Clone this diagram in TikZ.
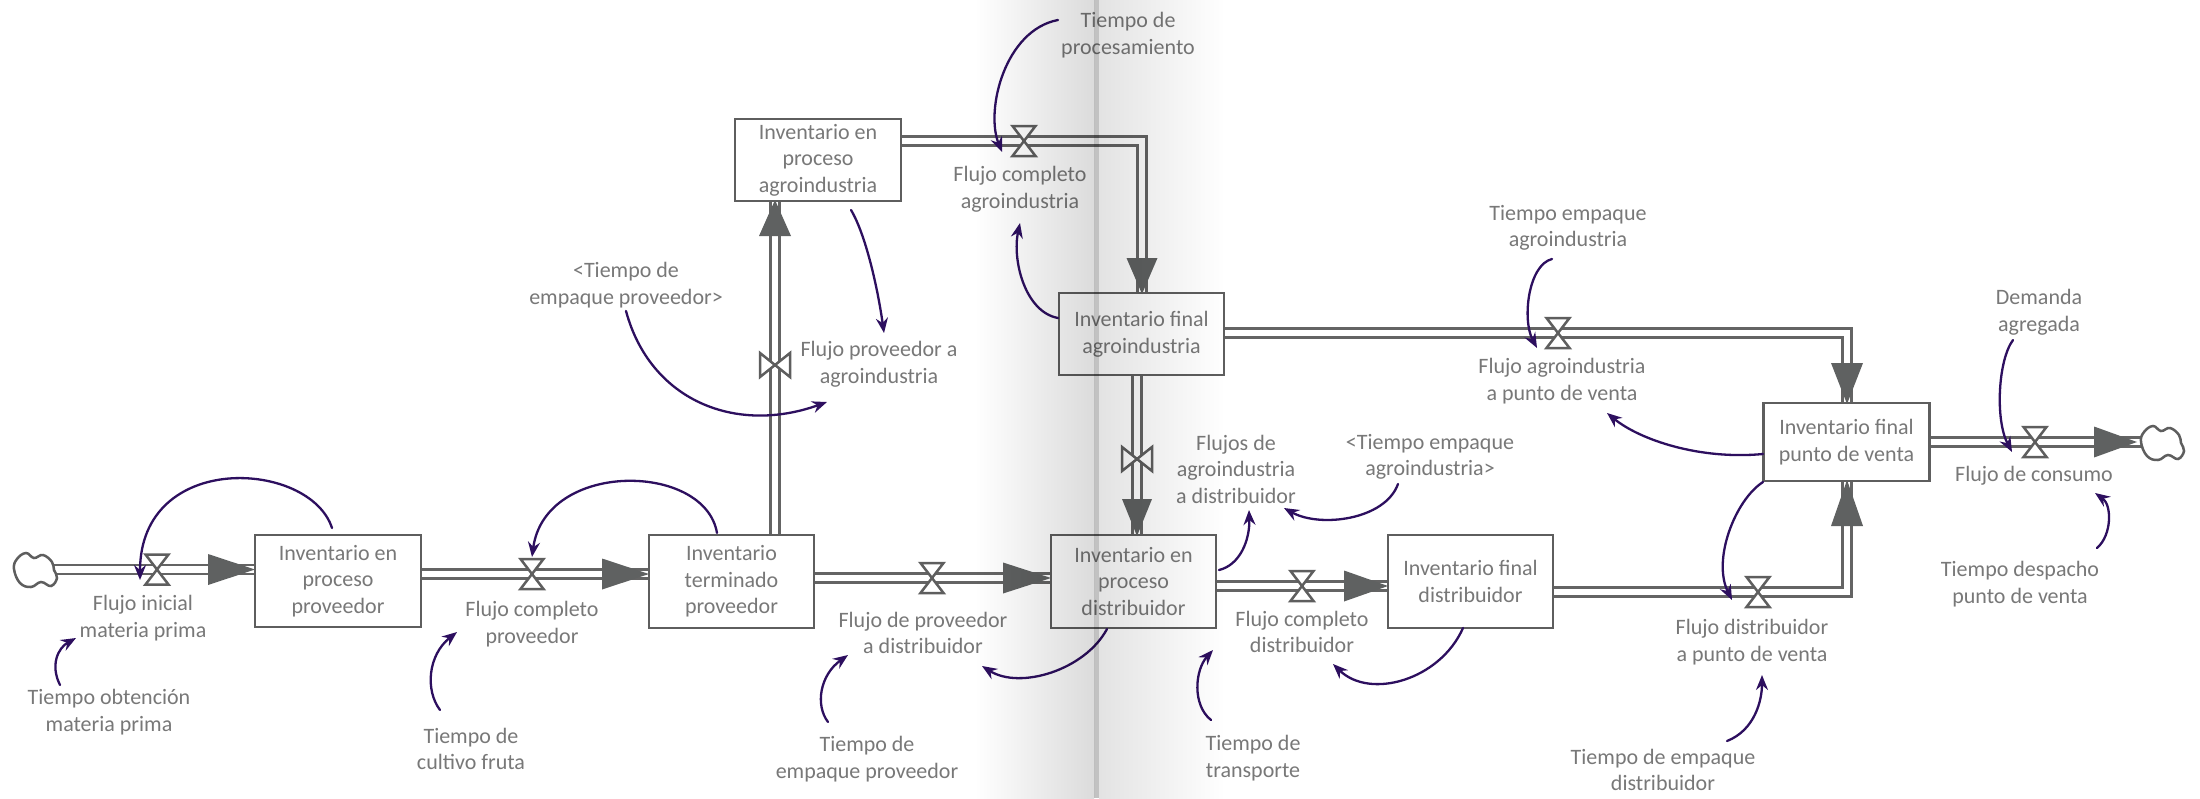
\documentclass[tikz,border=0pt]{standalone}
\usepackage{fontspec}
\setmainfont{Carlito}
\usetikzlibrary{arrows.meta}
\definecolor{txt}{HTML}{787878}
\definecolor{edge}{HTML}{5E5E5E}
\definecolor{pipec}{HTML}{646464}
\definecolor{headc}{HTML}{5F6161}
\definecolor{lnk}{RGB}{45,15,95}
\begin{document}
\begin{tikzpicture}[x=1pt,y=-1pt,
  every node/.style={inner sep=0pt, outer sep=0pt, align=center, text=txt, font=\fontsize{22}{26.5}\selectfont},
  stock/.style={draw=edge, line width=2.7pt},
  pipe/.style={draw=pipec, line width=2.5pt, double=white, double distance=6.5pt},
  valvest/.style={draw=edge, line width=2.5pt, fill=white, line join=miter},
  head/.style={fill=headc},
  link/.style={draw=lnk, line width=2.3pt, line cap=round, -{Stealth[length=15pt,width=12pt,inset=5pt]}},
  pics/hgvalve/.style={code={
    \draw[valvest] (-11.5,-15) -- (11.5,-15) -- (0,0) -- cycle;
    \draw[valvest] (-11.5,15) -- (11.5,15) -- (0,0) -- cycle;}},
  pics/btvalve/.style={code={
    \draw[valvest] (-15,-12) -- (-15,12) -- (0,0) -- cycle;
    \draw[valvest] (15,-12) -- (15,12) -- (0,0) -- cycle;}},
  pics/cloud/.style={code={
    \draw[edge, line width=2.5pt, fill=white] plot[smooth cycle, tension=0.7] coordinates
      {(-21,-1) (-18,-11) (-9,-17) (-1,-12) (8,-15) (17,-8) (19,0) (22,8) (16,16) (6,12) (-4,17) (-15,13)};}}
]
\useasboundingbox (0,0) rectangle (2200,798);
\fill[white] (0,0) rectangle (2200,798);

% ---------- stocks ----------
\node[stock, minimum width=166pt, minimum height=92pt] (b1) at (338,581) {Inventario en\\proceso\\proveedor};
\node[stock, minimum width=165pt, minimum height=93pt] (b2) at (731.5,581.5) {Inventario\\terminado\\proveedor};
\node[stock, minimum width=166pt, minimum height=82pt] (b3) at (818,160) {Inventario en\\proceso\\agroindustria};
\node[stock, minimum width=165pt, minimum height=82pt] (b4) at (1141.5,334) {Inventario final\\agroindustria};
\node[stock, minimum width=165pt, minimum height=93pt] (b5) at (1133.5,581.5) {Inventario en\\proceso\\distribuidor};
\node[stock, minimum width=165pt, minimum height=93pt] (b6) at (1470.5,581.5) {Inventario final\\distribuidor};
\node[stock, minimum width=166pt, minimum height=78pt] (b7) at (1846.5,442) {Inventario final\\punto de venta};

% ---------- valve / corner / cloud coordinates ----------
\coordinate (c1) at (35,570);
\coordinate (c2) at (2162,443);
\coordinate (v1) at (157,569.5);
\coordinate (v2) at (532,574);
\coordinate (v3) at (932,578);
\coordinate (v4) at (1302,586);
\coordinate (v5) at (1758,592);
\coordinate (v6) at (775,365);
\coordinate (v7) at (1024,141);
\coordinate (v8) at (1137,459);
\coordinate (v9) at (1558,333);
\coordinate (v10) at (2035,442);
\coordinate (k5) at (1847,592);
\coordinate (k7) at (1142,141);
\coordinate (k9) at (1847,333);

% ---------- pipes ----------
\draw[pipe] (c1 |- v1) -- (b1.west |- v1);
\draw[pipe] (b1.east |- v2) -- (b2.west |- v2);
\draw[pipe] (b2.east |- v3) -- (b5.west |- v3);
\draw[pipe] (b5.east |- v4) -- (b6.west |- v4);
\draw[pipe] (b6.east |- v5) -- (k5) -- (k5 |- b7.south);
\draw[pipe] (v6 |- b2.north) -- (v6 |- b3.south);
\draw[pipe] (b3.east |- v7) -- (k7) -- (k7 |- b4.north);
\draw[pipe] (v8 |- b4.south) -- (v8 |- b5.north);
\draw[pipe] (b4.east |- v9) -- (k9) -- (k9 |- b7.north);
\draw[pipe] (b7.east |- v10) -- (c2 |- v10);
\draw[stock] (b1.north west) rectangle (b1.south east);
\draw[stock] (b2.north west) rectangle (b2.south east);
\draw[stock] (b3.north west) rectangle (b3.south east);
\draw[stock] (b4.north west) rectangle (b4.south east);
\draw[stock] (b5.north west) rectangle (b5.south east);
\draw[stock] (b6.north west) rectangle (b6.south east);
\draw[stock] (b7.north west) rectangle (b7.south east);

% ---------- arrowheads on pipes ----------
\fill[head] (b1.west |- v1) -- ++(-47,-15.5) -- ++(0,31) -- cycle;
\fill[head] (b2.west |- v2) -- ++(-47,-15.5) -- ++(0,31) -- cycle;
\fill[head] (b5.west |- v3) -- ++(-48,-15.5) -- ++(0,31) -- cycle;
\fill[head] (b6.west |- v4) -- ++(-44,-15.5) -- ++(0,31) -- cycle;
\fill[head] ([yshift=1pt]k5 |- b7.south) -- ++(-16,46) -- ++(32,0) -- cycle;
\fill[head] ([yshift=1pt]v6 |- b3.south) -- ++(-16,36) -- ++(32,0) -- cycle;
\fill[head] ([yshift=-1pt]k7 |- b4.north) -- ++(-15.5,-36) -- ++(31,0) -- cycle;
\fill[head] ([yshift=-1pt]v8 |- b5.north) -- ++(-15,-37) -- ++(30,0) -- cycle;
\fill[head] ([yshift=-1pt]k9 |- b7.north) -- ++(-16,-41) -- ++(32,0) -- cycle;
\fill[head] (2137,442) -- ++(-43,-15.5) -- ++(0,31) -- cycle;

% ---------- valves and clouds ----------
\pic at (v1) {hgvalve};
\pic at (v2) {hgvalve};
\pic at (v3) {hgvalve};
\pic at (v4) {hgvalve};
\pic at (v5) {hgvalve};
\pic at (v7) {hgvalve};
\pic at (v9) {hgvalve};
\pic at (v10) {hgvalve};
\pic at (v6) {btvalve};
\pic at (v8) {btvalve};
\pic at (c1) {cloud};
\pic at (c2) {cloud};

% ---------- labels ----------
\node (l1) at (143,618) {Flujo inicial\\materia prima};
\node (l2) at (109,712) {Tiempo obtención\\materia prima};
\node (l3) at (532,624) {Flujo completo\\proveedor};
\node (l4) at (471,749) {Tiempo de\\cultivo fruta};
\node (l5) at (879,364) {Flujo proveedor a\\agroindustria};
\node (l6) at (626,285) {<Tiempo de\\empaque proveedor>};
\node (l7) at (1020,189) {Flujo completo\\agroindustria};
\node (l8) at (1128,35) {Tiempo de\\procesamiento};
\node (l9) at (1568,228) {Tiempo empaque\\agroindustria};
\node (l10) at (1562,381) {Flujo agroindustria\\a punto de venta};
\node (l11) at (2039,312) {Demanda\\agregada};
\node (l12) at (2034,476) {Flujo de consumo};
\node (l13) at (2020,584) {Tiempo despacho\\punto de venta};
\node (l14) at (1236,469) {Flujos de\\agroindustria\\a distribuidor};
\node (l15) at (1430,457) {<Tiempo empaque\\agroindustria>};
\node (l16) at (1302,632) {Flujo completo\\distribuidor};
\node (l17) at (1253,758) {Tiempo de\\transporte};
\node (l18) at (1752,642) {Flujo distribuidor\\a punto de venta};
\node (l19) at (1663,770) {Tiempo de empaque\\distribuidor};
\node (l20) at (867,759) {Tiempo de\\empaque proveedor};
\node (l21) at (923,633) {Flujo de proveedor\\a distribuidor};

% ---------- link end points ----------
\coordinate (s1) at (60,685);   \coordinate (e1) at (76,638);
\coordinate (s2) at (332,528);  \coordinate (e2) at (140,580);
\coordinate (s3) at (717,533);  \coordinate (e3) at (532,557);
\coordinate (s4) at (440,710);  \coordinate (e4) at (457,632);
\coordinate (s5) at (626,311);  \coordinate (e5) at (827,402);
\coordinate (s6) at (851,210);  \coordinate (e6) at (884,333);
\coordinate (s7) at (1058,20);  \coordinate (e7) at (1002,152);
\coordinate (s8) at (1058,318); \coordinate (e8) at (1020,223);
\coordinate (s9) at (1552,259); \coordinate (e9) at (1537,348);
\coordinate (s10) at (1763,454); \coordinate (e10) at (1607,413);
\coordinate (s11) at (1763,482); \coordinate (e11) at (1732,600);
\coordinate (s12) at (1727,741); \coordinate (e12) at (1762,675);
\coordinate (s13) at (2013,340); \coordinate (e13) at (2012,452);
\coordinate (s14) at (2097,548); \coordinate (e14) at (2095,493);
\coordinate (s15) at (1398,484); \coordinate (e15) at (1284,508);
\coordinate (s16) at (1219,570); \coordinate (e16) at (1249,510);
\coordinate (s17) at (1211,720); \coordinate (e17) at (1213,650);
\coordinate (s18) at (1463,628); \coordinate (e18) at (1333,664);
\coordinate (s19) at (1107,629); \coordinate (e19) at (982,666);
\coordinate (s20) at (828,722);  \coordinate (e20) at (848,655);

% ---------- links ----------
\draw[link] (s1) .. controls (50,665) and (58,648) .. (e1);
\draw[link] (s2) .. controls (310,460) and (140,450) .. (e2);
\draw[link] (s3) .. controls (705,462) and (545,460) .. (e3);
\draw[link] (s4) .. controls (425,690) and (428,655) .. (e4);
\draw[link] (s5) .. controls (650,400) and (735,435) .. (e5);
\draw[link] (s6) .. controls (866,235) and (878,290) .. (e6);
\draw[link] (s7) .. controls (1005,30) and (985,110) .. (e7);
\draw[link] (s8) .. controls (1025,312) and (1012,260) .. (e8);
\draw[link] (s9) .. controls (1528,265) and (1522,320) .. (e9);
\draw[link] (s10) .. controls (1700,460) and (1640,440) .. (e10);
\draw[link] (s11) .. controls (1735,500) and (1712,560) .. (e11);
\draw[link] (s12) .. controls (1755,730) and (1762,700) .. (e12);
\draw[link] (s13) .. controls (1998,360) and (1995,420) .. (e13);
\draw[link] (s14) .. controls (2112,535) and (2112,505) .. (e14);
\draw[link] (s15) .. controls (1385,520) and (1320,528) .. (e15);
\draw[link] (s16) .. controls (1240,565) and (1250,540) .. (e16);
\draw[link] (s17) .. controls (1192,705) and (1195,670) .. (e17);
\draw[link] (s18) .. controls (1440,680) and (1370,700) .. (e18);
\draw[link] (s19) .. controls (1085,670) and (1020,690) .. (e19);
\draw[link] (s20) .. controls (815,705) and (820,675) .. (e20);

% ---------- shaded band (page fold) ----------
\begin{scope}[blend mode=multiply]
\shade[left color=white, right color=black!14] (975,0) rectangle (1094,798);
\fill[black!24] (1094,0) rectangle (1099,798);
\shade[left color=black!11, right color=white] (1099,0) rectangle (1225,798);
\end{scope}
\end{tikzpicture}
\end{document}
